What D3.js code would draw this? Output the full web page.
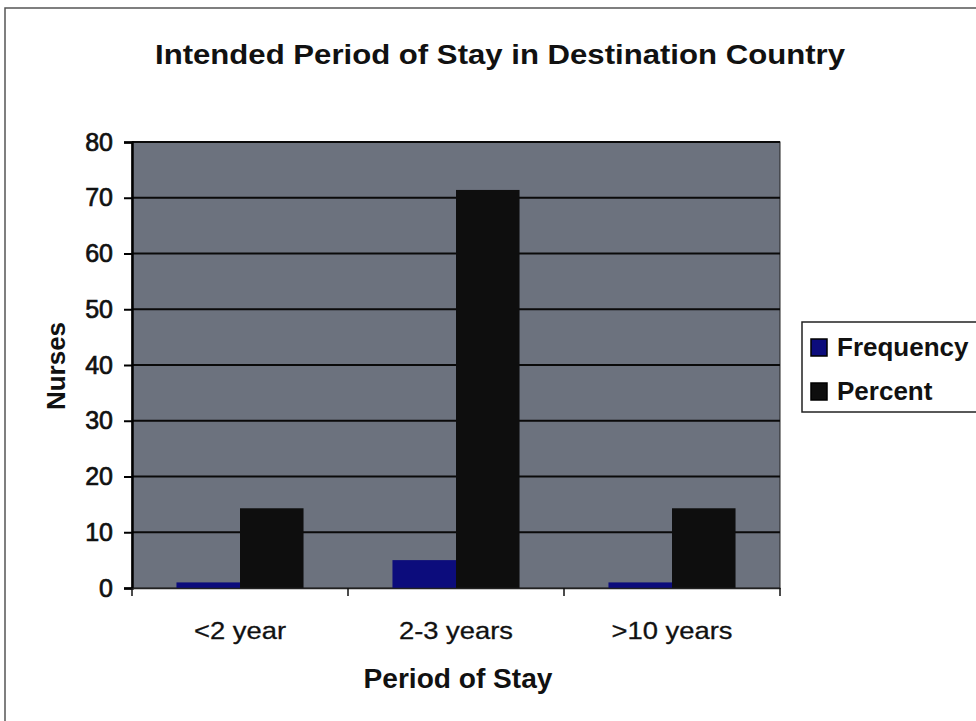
<!DOCTYPE html>
<html><head><meta charset="utf-8">
<script src="https://cdn.jsdelivr.net/npm/d3@7"></script>
<style>body{margin:0;background:#fff;}svg{display:block;font-family:"Liberation Sans",Arial,sans-serif;}</style>
</head><body>
<svg id="c" width="976" height="721"></svg>
<script>
const categories = ["<2 year", "2-3 years", ">10 years"];
const seriesNames = ["Frequency", "Percent"];
const frequency = [1, 5, 1];
const percent = [14.3, 71.4, 14.3];
const yTicks = [0, 10, 20, 30, 40, 50, 60, 70, 80];
const colors = {Frequency: "#0c0c7c", Percent: "#0e0e0e"};

(function () {
const svg = d3.select("#c");
const FONT = "Liberation Sans, Arial, sans-serif";
// outer frame
svg.append("rect").attr("x", 5).attr("y", 8).attr("width", 980).attr("height", 730)
  .attr("fill", "#fff").attr("stroke", "#555").attr("stroke-width", 1.5);

const pLeft = 132, pRight = 780, pTop = 142, pBottom = 588;
const x = d3.scaleBand().domain(categories).range([pLeft, pRight]);
const xs = d3.scaleBand().domain(seriesNames).range([0, x.bandwidth()]).paddingInner(0).paddingOuter(0.7);
const y = d3.scaleLinear().domain([0, 80]).range([pBottom, pTop]);

// plot background
svg.append("rect").attr("x", pLeft).attr("y", pTop).attr("width", pRight - pLeft).attr("height", pBottom - pTop)
  .attr("fill", "#6c727e").attr("stroke", "#222").attr("stroke-width", 1);

// gridlines
svg.append("g").selectAll("line").data(yTicks.filter(d => d > 0)).join("line")
  .attr("x1", pLeft).attr("x2", pRight).attr("y1", d => y(d)).attr("y2", d => y(d))
  .attr("stroke", "#0a0a0a").attr("stroke-width", 2);

// bars
const data = categories.map((c, i) => ({c, vals: [{s: "Frequency", v: frequency[i]}, {s: "Percent", v: percent[i]}]}));
const g = svg.append("g").selectAll("g").data(data).join("g").attr("transform", d => `translate(${x(d.c)},0)`);
g.selectAll("rect").data(d => d.vals).join("rect")
  .attr("x", d => xs(d.s)).attr("width", xs.bandwidth())
  .attr("y", d => y(d.v)).attr("height", d => y(0) - y(d.v))
  .attr("fill", d => colors[d.s]);

// y axis
const yAxis = svg.append("g").attr("transform", `translate(${pLeft},0)`)
  .call(d3.axisLeft(y).tickValues(yTicks).tickSize(8).tickPadding(11));
yAxis.select(".domain").attr("stroke", "#000").attr("stroke-width", 2.5);
yAxis.selectAll(".tick line").attr("stroke", "#000").attr("stroke-width", 2);
yAxis.selectAll("text").attr("font-size", 25).attr("fill", "#111")
  .attr("stroke", "#111").attr("stroke-width", 0.7)
  .attr("font-family", FONT);

// x axis
const xAxis = svg.append("g").attr("transform", `translate(0,${pBottom})`)
  .call(d3.axisBottom(x).tickSize(0).tickPadding(34));
xAxis.select(".domain").attr("stroke", "#222").attr("stroke-width", 1.5);
xAxis.selectAll("text").attr("font-size", 24).attr("fill", "#111")
  .attr("stroke", "#111").attr("stroke-width", 0.3)
  .attr("transform", "scale(1.14,1)")
  .attr("font-family", FONT);
// category boundary ticks
const bounds = [pLeft].concat(categories.map(c => x(c) + x.bandwidth()));
svg.append("g").selectAll("line").data(bounds).join("line")
  .attr("x1", d => d).attr("x2", d => d).attr("y1", pBottom).attr("y2", pBottom + 8)
  .attr("stroke", "#111").attr("stroke-width", 1.5);

// title
svg.append("text").attr("x", 500).attr("y", 64).attr("text-anchor", "middle")
  .attr("font-size", 28).attr("font-weight", "bold").attr("fill", "#111")
  .attr("textLength", 690).attr("lengthAdjust", "spacingAndGlyphs")
  .text("Intended Period of Stay in Destination Country");

// axis titles
svg.append("text").attr("x", 458).attr("y", 688).attr("text-anchor", "middle")
  .attr("font-size", 27).attr("font-weight", "bold").attr("fill", "#111")
  .attr("textLength", 189).attr("lengthAdjust", "spacingAndGlyphs")
  .text("Period of Stay");
svg.append("text").attr("transform", "translate(65,366) rotate(-90)").attr("text-anchor", "middle")
  .attr("font-size", 26).attr("font-weight", "bold").attr("fill", "#111")
  .text("Nurses");

// legend
const lg = svg.append("g");
lg.append("rect").attr("x", 802).attr("y", 322).attr("width", 200).attr("height", 90)
  .attr("fill", "#fff").attr("stroke", "#222").attr("stroke-width", 1.5);
seriesNames.forEach((s, i) => {
  const yy = 356 + i * 44;
  lg.append("rect").attr("x", 811).attr("y", yy - 17).attr("width", 16).attr("height", 17)
    .attr("fill", colors[s]).attr("stroke", "#000").attr("stroke-width", 1.5);
  lg.append("text").attr("x", 837).attr("y", yy).attr("font-size", 26).attr("font-weight", "bold").attr("fill", "#111")
    .text(s);
});
})();
</script>
</body></html>
